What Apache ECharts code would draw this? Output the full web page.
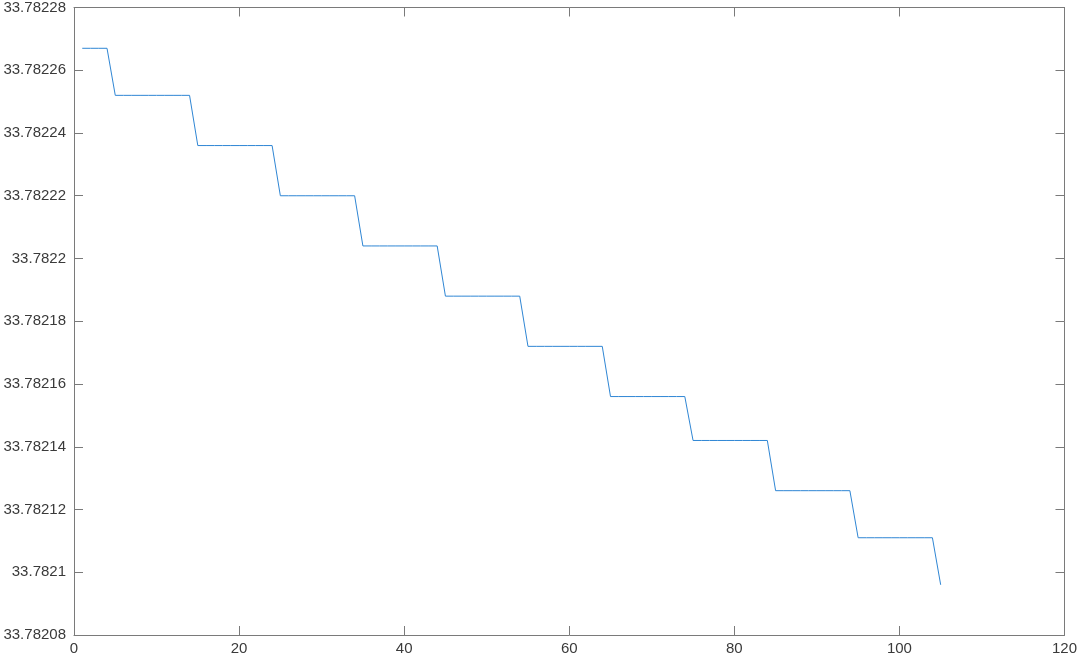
<!DOCTYPE html>
<html>
<head>
<meta charset="utf-8">
<script src="https://cdn.jsdelivr.net/npm/echarts@6/dist/echarts.min.js"></script>
<style>
  html, body { margin: 0; padding: 0; background: #fff; }
  #chart { width: 1080px; height: 657px; }
</style>
</head>
<body>
<div id="chart"></div>
<script>
// step levels of the trace and how many samples sit on each level
const stepLevels = [
  33.782267, 33.782252, 33.782236, 33.78222, 33.782204, 33.782188,
  33.782172, 33.782156, 33.782142, 33.782126, 33.782111, 33.782096
];
const stepCounts = [4, 10, 10, 10, 10, 10, 10, 10, 10, 10, 10, 1];

const xTicks = [0, 20, 40, 60, 80, 100, 120];
const yTicks = [
  33.78208, 33.7821, 33.78212, 33.78214, 33.78216, 33.78218,
  33.7822, 33.78222, 33.78224, 33.78226, 33.78228
];

const points = [];
stepLevels.forEach((level, i) => {
  for (let k = 0; k < stepCounts[i]; k++) {
    points.push([points.length + 1, level]);
  }
});

const axisColor = "#7a7a7a";
const labelColor = "#3a3a3a";
const font = "Liberation Sans, Arial, sans-serif";

function yLabel(v) {
  return String(parseFloat(Number(v).toFixed(5)));
}

const xBase = {
  type: "value",
  min: xTicks[0],
  max: xTicks[xTicks.length - 1],
  interval: 20,
  splitLine: { show: false },
  axisLine: { show: true, onZero: false, lineStyle: { color: axisColor, width: 1 } },
  axisTick: { show: true, inside: true, length: 9, lineStyle: { color: axisColor } }
};

const yBase = {
  type: "value",
  min: yTicks[0],
  max: yTicks[yTicks.length - 1],
  interval: 0.00002,
  scale: true,
  splitLine: { show: false },
  axisLine: { show: true, onZero: false, lineStyle: { color: axisColor, width: 1 } },
  axisTick: { show: true, inside: true, length: 9, lineStyle: { color: axisColor } }
};

const chart = echarts.init(document.getElementById("chart"));
chart.setOption({
  animation: false,
  backgroundColor: "#ffffff",
  grid: { left: 74, right: 15, top: 7, bottom: 22, containLabel: false },
  xAxis: [
    Object.assign({}, xBase, {
      position: "bottom",
      axisLabel: { color: labelColor, fontFamily: font, fontSize: 15, margin: 6 }
    }),
    Object.assign({}, xBase, {
      position: "top",
      axisLabel: { show: false }
    })
  ],
  yAxis: [
    Object.assign({}, yBase, {
      position: "left",
      axisLabel: { color: labelColor, fontFamily: font, fontSize: 15, margin: 8, formatter: yLabel }
    }),
    Object.assign({}, yBase, {
      position: "right",
      axisLabel: { show: false }
    })
  ],
  series: [
    {
      type: "line",
      xAxisIndex: 0,
      yAxisIndex: 0,
      data: points,
      showSymbol: false,
      lineStyle: { color: "#2f86d4", width: 1 },
      emphasis: { disabled: true }
    }
  ]
});
</script>
</body>
</html>
